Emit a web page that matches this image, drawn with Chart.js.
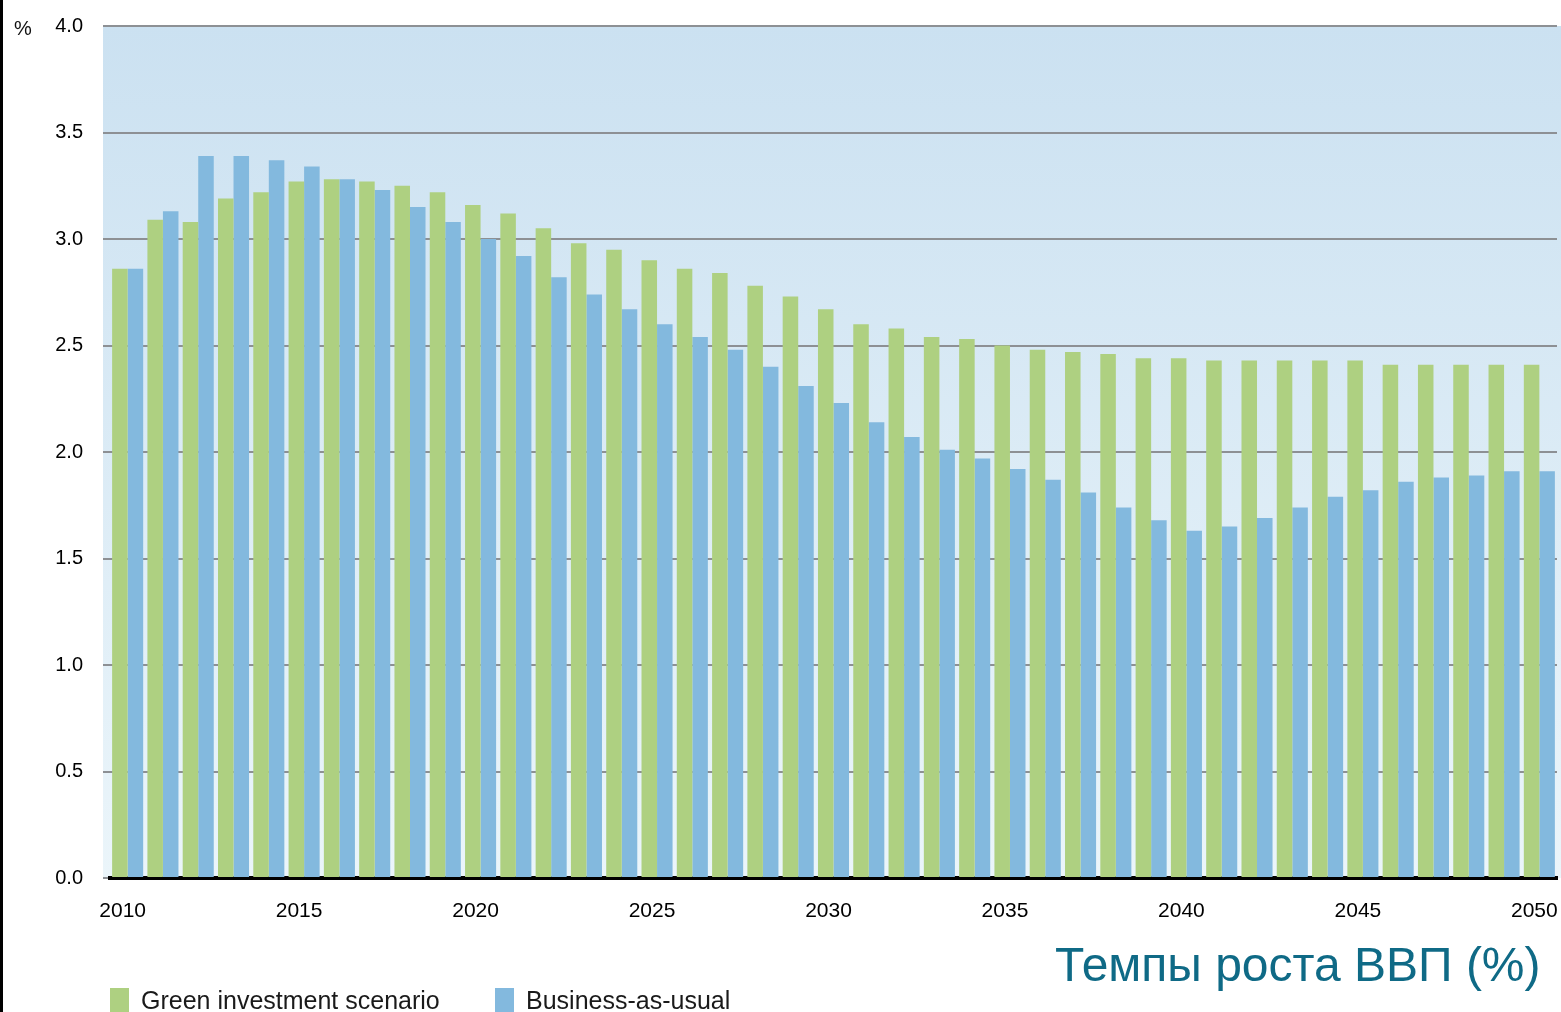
<!DOCTYPE html>
<html lang="ru">
<head>
    <meta charset="UTF-8">
    <title>Темпы роста ВВП (%)</title>
    <script src="https://cdn.jsdelivr.net/npm/chart.js"></script>
    <style>
        body { margin: 0; background: #fff; }
        #wrap { position: relative; width: 1561px; height: 1012px; overflow: hidden; }
        #pct { position: absolute; left: 14px; top: 17px; font: 20px 'Liberation Sans', Arial, sans-serif; color: #111; }
        #title { position: absolute; left: 1055px; top: 941px; font: 48px 'Liberation Sans', Arial, sans-serif; line-height: 1; color: #0f6a86; white-space: nowrap; }
        #legend { position: absolute; left: 0; top: 987px; width: 1000px; height: 30px; font: 25px 'Liberation Sans', Arial, sans-serif; color: #1a1a1a; line-height: 26px; }
        .item { position: absolute; top: 0; display: flex; align-items: flex-start; white-space: nowrap; }
        .box { width: 19px; height: 26px; margin-right: 12px; margin-top: 1px; }
    </style>
</head>
<body>
    <div id="wrap">
        <canvas id="myChart"></canvas>
        <div id="pct">%</div>
        <div id="title">Темпы роста ВВП (%)</div>
        <div id="legend"></div>
    </div>
    <script>
        const years = [];
        for (let y = 2010; y <= 2050; y++) years.push(y);

        const seriesNames = ['Green investment scenario', 'Business-as-usual'];
        const seriesColors = ['#aed081', '#83b9de'];

        const greenValues = [
            2.86, 3.09, 3.08, 3.19, 3.22, 3.27, 3.28, 3.27, 3.25, 3.22,
            3.16, 3.12, 3.05, 2.98, 2.95, 2.90, 2.86, 2.84, 2.78, 2.73,
            2.67, 2.60, 2.58, 2.54, 2.53, 2.50, 2.48, 2.47, 2.46, 2.44,
            2.44, 2.43, 2.43, 2.43, 2.43, 2.43, 2.41, 2.41, 2.41, 2.41,
            2.41
        ];
        const bauValues = [
            2.86, 3.13, 3.39, 3.39, 3.37, 3.34, 3.28, 3.23, 3.15, 3.08,
            3.00, 2.92, 2.82, 2.74, 2.67, 2.60, 2.54, 2.48, 2.40, 2.31,
            2.23, 2.14, 2.07, 2.01, 1.97, 1.92, 1.87, 1.81, 1.74, 1.68,
            1.63, 1.65, 1.69, 1.74, 1.79, 1.82, 1.86, 1.88, 1.89, 1.91,
            1.91
        ];
        const yTicks = [0, 0.5, 1.0, 1.5, 2.0, 2.5, 3.0, 3.5, 4.0];

        // light blue plot background + black edge on the left
        const backdrop = {
            id: 'backdrop',
            beforeDraw(chart) {
                const { ctx, chartArea } = chart;
                ctx.save();
                const g = ctx.createLinearGradient(0, chartArea.top, 0, chartArea.bottom);
                g.addColorStop(0, '#cbe1f1');
                g.addColorStop(1, '#ebf5fa');
                ctx.fillStyle = g;
                ctx.fillRect(chartArea.left - 7, chartArea.top, chart.width - chartArea.left + 7, chartArea.bottom - chartArea.top);
                ctx.fillStyle = '#000';
                ctx.fillRect(0, 0, 3, chart.height);
                ctx.restore();
            }
        };

        const tickFont = { family: "'Liberation Sans', Arial, sans-serif" };

        const ctx = document.getElementById('myChart').getContext('2d');
        const myChart = new Chart(ctx, {
            type: 'bar',
            data: {
                labels: years,
                datasets: [{
                    label: seriesNames[0],
                    data: greenValues,
                    backgroundColor: seriesColors[0]
                }, {
                    label: seriesNames[1],
                    data: bauValues,
                    backgroundColor: seriesColors[1]
                }]
            },
            options: {
                responsive: true,
                maintainAspectRatio: false,
                animation: false,
                categoryPercentage: 0.88,
                barPercentage: 1.0,
                layout: { padding: { top: 26, right: 4, left: 0, bottom: 0 } },
                plugins: {
                    legend: { display: false },
                    tooltip: { enabled: false }
                },
                scales: {
                    x: {
                        grid: { display: false },
                        border: { color: '#000', width: 4 },
                        afterFit(scale) {
                            scale.height = 134;
                            scale.paddingLeft = 0;
                            scale.paddingRight = 0;
                        },
                        ticks: {
                            autoSkip: false,
                            maxRotation: 0,
                            padding: 13,
                            labelOffset: -5,
                            color: '#000',
                            font: { ...tickFont, size: 21 },
                            callback(value, index) {
                                const y = years[index];
                                return y % 5 === 0 ? String(y) : '';
                            }
                        }
                    },
                    y: {
                        min: 0,
                        max: 4,
                        afterFit(scale) {
                            scale.width = 110;
                            scale.paddingTop = 0;
                            scale.paddingBottom = 0;
                        },
                        afterBuildTicks(scale) {
                            scale.ticks = yTicks.map(v => ({ value: v }));
                        },
                        border: { display: false },
                        grid: { color: '#8d9094', lineWidth: 2, drawTicks: true, tickLength: 7 },
                        ticks: {
                            padding: 20,
                            color: '#000',
                            font: { ...tickFont, size: 20 },
                            callback: v => v.toFixed(1)
                        }
                    }
                }
            },
            plugins: [backdrop]
        });

        // legend under the chart
        const legendLeft = [110, 495];
        const legend = document.getElementById('legend');
        seriesNames.forEach((name, i) => {
            const item = document.createElement('div');
            item.className = 'item';
            item.style.left = legendLeft[i] + 'px';
            const box = document.createElement('div');
            box.className = 'box';
            box.style.background = seriesColors[i];
            const txt = document.createElement('span');
            txt.textContent = name;
            item.appendChild(box);
            item.appendChild(txt);
            legend.appendChild(item);
        });
    </script>
</body>
</html>
